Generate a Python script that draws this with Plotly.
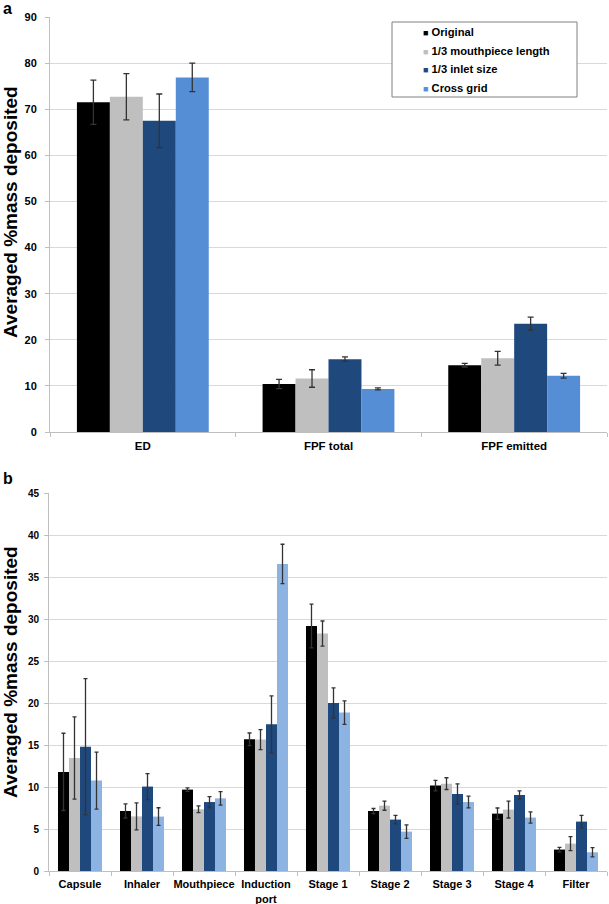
import plotly.graph_objects as go

series = ["Original", "1/3 mouthpiece length", "1/3 inlet size", "Cross grid"]
colors_a = ["#000000", "#bfbfbf", "#1f497d", "#558ed5"]
colors_b = ["#000000", "#bfbfbf", "#1f497d", "#8db3e2"]

cats_a = ["ED", "FPF total", "FPF emitted"]
orig_a = [71.5, 10.4, 14.5]
mouth_a = [72.7, 11.6, 16.0]
inlet_a = [67.5, 15.8, 23.5]
cross_a = [76.9, 9.35, 12.2]
orig_a_err = [4.8, 1.0, 0.4]
mouth_a_err = [5.0, 1.9, 1.5]
inlet_a_err = [5.8, 0.5, 1.4]
cross_a_err = [3.1, 0.2, 0.5]

cats_b = ["Capsule", "Inhaler", "Mouthpiece", "Induction<br>port", "Stage 1",
          "Stage 2", "Stage 3", "Stage 4", "Filter"]
orig_b = [11.8, 7.14, 9.69, 15.68, 29.17, 7.14, 10.17, 6.83, 2.55]
mouth_b = [13.45, 6.5, 7.35, 15.64, 28.26, 7.78, 10.4, 7.31, 3.26]
inlet_b = [14.8, 10.05, 8.21, 17.46, 20.0, 6.12, 9.17, 9.05, 5.88]
cross_b = [10.76, 6.48, 8.65, 36.55, 18.86, 4.69, 8.21, 6.36, 2.23]
orig_b_err = [4.6, 0.85, 0.2, 0.75, 2.6, 0.3, 0.63, 0.67, 0.27]
mouth_b_err = [4.9, 1.6, 0.4, 1.2, 1.5, 0.55, 0.7, 1.0, 0.83]
inlet_b_err = [8.1, 1.55, 0.65, 3.4, 1.8, 0.5, 1.2, 0.48, 0.75]
cross_b_err = [3.4, 1.05, 0.8, 2.35, 1.4, 0.8, 0.7, 0.67, 0.55]

y_title = "Averaged %mass deposited"

vals_a = [orig_a, mouth_a, inlet_a, cross_a]
errs_a = [orig_a_err, mouth_a_err, inlet_a_err, cross_a_err]
vals_b = [orig_b, mouth_b, inlet_b, cross_b]
errs_b = [orig_b_err, mouth_b_err, inlet_b_err, cross_b_err]

FONT = "Liberation Sans, Arial, sans-serif"
W, H = 609, 904
fig = go.Figure()

for i, name in enumerate(series):
    fig.add_trace(go.Bar(
        x=cats_a, y=vals_a[i], name=name, marker_color=colors_a[i],
        marker_line_width=0, showlegend=False, xaxis="x", yaxis="y",
        error_y=dict(type="data", array=errs_a[i], color="#333333",
                     thickness=1.3, width=3)))
for i, name in enumerate(series):
    fig.add_trace(go.Bar(
        x=cats_b, y=vals_b[i], name=name, marker_color=colors_b[i],
        marker_line_width=0, showlegend=False, xaxis="x2", yaxis="y2",
        error_y=dict(type="data", array=errs_b[i], color="#333333",
                     thickness=1.3, width=2)))

axis_common = dict(showline=True, linecolor="#bfbfbf", linewidth=1,
                   ticks="outside", tickcolor="#bfbfbf", ticklen=4,
                   automargin=False)

def py(y):
    return (H - y) / H

# manual legend (box + small colored squares + labels)
leg_left, leg_top, leg_right, leg_bottom = 392, 22, 577, 97
row_y = [32, 50.5, 69, 87.5]
annotations = []
for i, name in enumerate(series):
    annotations.append(dict(
        text=f'<span style="color:{colors_a[i]};font-size:9px">■</span> <b>{name}</b>',
        x=421 / W, y=py(row_y[i]), xref="paper", yref="paper",
        xanchor="left", yanchor="middle", showarrow=False,
        font=dict(size=11.2, family=FONT, color="black")))
annotations += [
    dict(text="<b>a</b>", x=1 / W, y=py(8), xref="paper", yref="paper",
         xanchor="left", yanchor="middle", showarrow=False,
         font=dict(size=16, family=FONT)),
    dict(text="<b>b</b>", x=1 / W, y=py(478), xref="paper", yref="paper",
         xanchor="left", yanchor="middle", showarrow=False,
         font=dict(size=16, family=FONT)),
    dict(text=f"<b>{y_title}</b>", x=10 / W, y=py(212), xref="paper", yref="paper",
         xanchor="center", yanchor="middle", textangle=-90, showarrow=False,
         font=dict(size=19, family=FONT)),
    dict(text=f"<b>{y_title}</b>", x=10 / W, y=py(672), xref="paper", yref="paper",
         xanchor="center", yanchor="middle", textangle=-90, showarrow=False,
         font=dict(size=19, family=FONT)),
]

fig.update_layout(
    width=W, height=H,
    margin=dict(l=0, r=0, t=0, b=0, autoexpand=False),
    paper_bgcolor="white", plot_bgcolor="white",
    barmode="group", bargap=0.29, bargroupgap=0,
    showlegend=False,
    font=dict(family=FONT, color="black"),
    xaxis=dict(domain=[50 / W, 607 / W], anchor="y", type="category",
               tickson="boundaries", showgrid=False, tickangle=0,
               ticklabelstandoff=3,
               tickfont=dict(size=11.5, family=FONT, weight="bold"), **axis_common),
    yaxis=dict(domain=[py(432), py(17)], anchor="x",
               range=[0, 90], dtick=10, showgrid=True, gridcolor="#d9d9d9",
               gridwidth=1, zeroline=False, ticklabelstandoff=6,
               tickfont=dict(size=11, family=FONT, weight="bold"),
               **axis_common),
    xaxis2=dict(domain=[49 / W, 607 / W], anchor="y2", type="category",
                tickson="boundaries", showgrid=False, tickangle=0,
                ticklabelstandoff=3,
                tickfont=dict(size=11, family=FONT, weight="bold"), **axis_common),
    yaxis2=dict(domain=[py(871), py(493)], anchor="x2",
                range=[0, 45], dtick=5, showgrid=True, gridcolor="#d9d9d9",
                gridwidth=1, zeroline=False, ticklabelstandoff=3,
                tickfont=dict(size=10, family=FONT, weight="bold"),
                **axis_common),
    shapes=[dict(type="rect", xref="paper", yref="paper",
                 x0=leg_left / W, x1=leg_right / W,
                 y0=py(leg_bottom), y1=py(leg_top),
                 line=dict(color="#808080", width=1), fillcolor="white",
                 layer="above")],
    annotations=annotations,
)

fig.write_html("out.html",
               config={"displayModeBar": False},
               post_script="document.body.style.margin='0px';document.body.style.overflow='hidden';")
